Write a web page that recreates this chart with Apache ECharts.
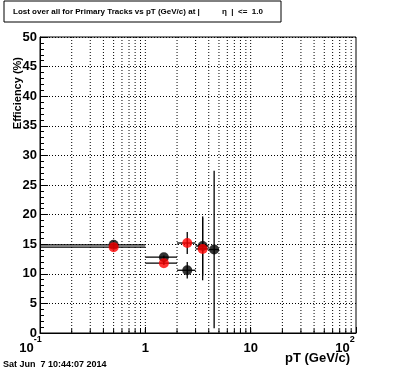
<!DOCTYPE html>
<html>
<head>
<meta charset="utf-8">
<script src="https://cdn.jsdelivr.net/npm/echarts@6/dist/echarts.min.js"></script>
<style>
html,body{margin:0;padding:0;background:#fff;}
#c{width:396px;height:372px;}
</style>
</head>
<body>
<div id="c"></div>
<script>
// ---- data ----
const binLow    = [0, 1, 2, 3, 4];
const binHigh   = [1, 2, 3, 4, 5];
const binCenter = [0.5, 1.5, 2.5, 3.5, 4.5];
const blackEff  = [14.9, 12.8, 10.6, 14.7, 14.1];
const blackErr  = [0.3, 0.3, 1.4, 5.0, 13.3];
const redEff    = [14.5, 11.8, 15.2, 14.2];
const redErr    = [0.3, 0.3, 1.85, 5.3];
const xMin = 0.1, xMax = 100;
const yMin = 0, yMax = 50, yStep = 5;
const titleText = 'Lost over all for Primary Tracks vs pT (GeV/c) at |';
const titleText2 = 'η  |  <=  1.0';
const dateText = 'Sat Jun  7 10:44:07 2014';
const xTitle = 'pT (GeV/c)';
const yTitle = 'Efficiency (%)';

// minor log grid positions
const gridXs = [];
for (let d = -1; d < 2; d++) {
  for (let m = 1; m <= 9; m++) {
    const v = m * Math.pow(10, d);
    if (v > xMin && v < xMax) gridXs.push([v]);
  }
}

function rows(eff, err) {
  return eff.map((y, i) => [binCenter[i], binLow[i], binHigh[i], y, err[i]]);
}

function errRender(color) {
  return function (params, api) {
    const xc = api.value(0);
    const xl = Math.max(api.value(1), xMin);
    const xh = Math.min(api.value(2), xMax);
    const y = api.value(3);
    const e = api.value(4);
    const pL = api.coord([xl, y]);
    const pH = api.coord([xh, y]);
    const pT = api.coord([xc, Math.min(y + e, yMax)]);
    const pB = api.coord([xc, Math.max(y - e, yMin)]);
    const st = { stroke: color, lineWidth: 1.3, fill: null };
    return {
      type: 'group',
      children: [
        { type: 'line', shape: { x1: pL[0], y1: pL[1], x2: pH[0], y2: pH[1] }, style: st },
        { type: 'line', shape: { x1: pT[0], y1: pT[1], x2: pB[0], y2: pB[1] }, style: st }
      ]
    };
  };
}

const FONT = 'Liberation Sans, Arial, Helvetica, sans-serif';

const chart = echarts.init(document.getElementById('c'), null, { renderer: 'canvas' });
chart.setOption({
  animation: false,
  backgroundColor: '#fff',
  grid: { left: 40, right: 40, top: 37, bottom: 39, show: true, borderColor: '#000', borderWidth: 1, backgroundColor: 'transparent' },
  xAxis: {
    type: 'log', logBase: 10, min: xMin, max: xMax,
    axisLine: { show: true, lineStyle: { color: '#000', width: 1 } },
    axisTick: { show: true, inside: true, length: 6, lineStyle: { color: '#000' } },
    splitLine: { show: false },
    axisLabel: {
      margin: 2,
      color: '#000',
      fontFamily: FONT,
      formatter: function (v) {
        const p = Math.round(Math.log10(v));
        if (p === -1) return '{b|10}{s|-1}{g1|}';
        if (p === 2) return '{b|10}{s|2}{g2|}';
        if (p === 0) return '{b|1}';
        return '{b|10}';
      },
      rich: {
        b: { fontSize: 13, fontWeight: 'bold', fontFamily: FONT, lineHeight: 20, verticalAlign: 'bottom', color: '#000' },
        s: { fontSize: 9, fontWeight: 'bold', fontFamily: FONT, lineHeight: 9, verticalAlign: 'top', color: '#000' },
        g1: { width: 19 },
        g2: { width: 22 }
      }
    }
  },
  yAxis: {
    type: 'value', min: yMin, max: yMax, interval: yStep,
    axisLine: { show: true, lineStyle: { color: '#000', width: 1 } },
    axisTick: { show: true, inside: true, length: 8, lineStyle: { color: '#000' } },
    minorTick: { show: true, splitNumber: 5, length: 4, lineStyle: { color: '#000' } },
    splitLine: { show: true, lineStyle: { color: '#000', type: [1, 2], width: 1 } },
    axisLabel: { margin: 3, color: '#000', fontSize: 13, fontWeight: 'bold', fontFamily: FONT }
  },
  series: [
    {
      type: 'custom', coordinateSystem: 'cartesian2d', silent: true, z: 1,
      data: gridXs,
      encode: { x: 0 },
      renderItem: function (params, api) {
        const x = api.value(0);
        const pTop = api.coord([x, yMax]);
        const pBot = api.coord([x, yMin]);
        return {
          type: 'group',
          children: [
            { type: 'line', shape: { x1: pTop[0], y1: pTop[1], x2: pBot[0], y2: pBot[1] }, style: { stroke: '#000', lineWidth: 1, lineDash: [1, 2] } },
            { type: 'line', shape: { x1: pBot[0], y1: pBot[1], x2: pBot[0], y2: pBot[1] - 4 }, style: { stroke: '#000', lineWidth: 1 } }
          ]
        };
      }
    },
    {
      type: 'custom', coordinateSystem: 'cartesian2d', silent: true, z: 3,
      data: rows(blackEff, blackErr), encode: { x: 0, y: 3 },
      renderItem: errRender('#000')
    },
    {
      type: 'scatter', symbol: 'circle', symbolSize: 10, z: 4,
      itemStyle: { color: '#000' },
      data: blackEff.map((y, i) => [binCenter[i], y])
    },
    {
      type: 'custom', coordinateSystem: 'cartesian2d', silent: true, z: 5,
      data: rows(redEff, redErr), encode: { x: 0, y: 3 },
      renderItem: errRender('#000')
    },
    {
      type: 'scatter', symbol: 'circle', symbolSize: 10, z: 6,
      itemStyle: { color: '#ff0000' },
      data: redEff.map((y, i) => [binCenter[i], y])
    }
  ],
  graphic: [
    { type: 'rect', shape: { x: 4, y: 1, width: 277, height: 21 }, style: { fill: '#fff', stroke: '#000', lineWidth: 1 } },
    { type: 'text', x: 13, y: 12, style: { text: titleText, font: 'bold 8px ' + FONT, fill: '#000', verticalAlign: 'middle', align: 'left' } },
    { type: 'text', x: 222, y: 12, style: { text: titleText2, font: 'bold 8px ' + FONT, fill: '#000', verticalAlign: 'middle', align: 'left' } },
    { type: 'text', x: 18, y: 57, rotation: Math.PI / 2, style: { text: yTitle, font: 'bold 11px ' + FONT, fill: '#000', verticalAlign: 'middle', align: 'right' } },
    { type: 'text', x: 350, y: 358, style: { text: xTitle, font: 'bold 13px ' + FONT, fill: '#000', verticalAlign: 'middle', align: 'right' } },
    { type: 'text', x: 3, y: 365, style: { text: dateText, font: 'bold 9px ' + FONT, fill: '#000', verticalAlign: 'middle', align: 'left' } }
  ]
});
</script>
</body>
</html>
